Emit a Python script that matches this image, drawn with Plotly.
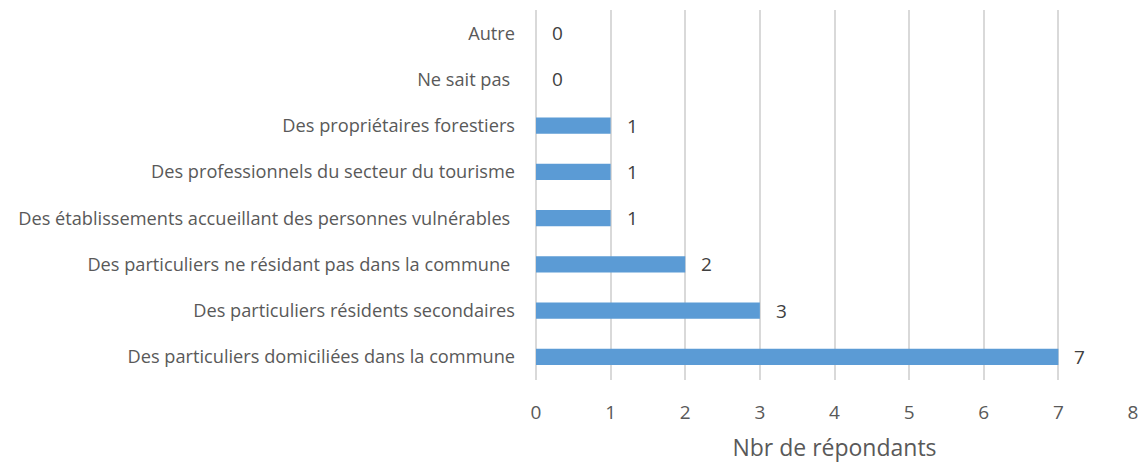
import plotly.graph_objects as go

categories = [
    "Des particuliers domiciliées dans la commune",
    "Des particuliers résidents secondaires",
    "Des particuliers ne résidant pas dans la commune ",
    "Des établissements accueillant des personnes vulnérables ",
    "Des professionnels du secteur du tourisme",
    "Des propriétaires forestiers",
    "Ne sait pas ",
    "Autre",
]
values = [7, 3, 2, 1, 1, 1, 0, 0]
x_ticks = [0, 1, 2, 3, 4, 5, 6, 7, 8]
x_title = "Nbr de répondants"

text_color = "#595959"
font_family = "'Open Sans', sans-serif"
grid_color = "#D9D9D9"

fig = go.Figure()
fig.add_trace(go.Bar(
    y=categories,
    x=values,
    orientation="h",
    marker=dict(color="#5B9BD5", line=dict(width=0)),
    hoverinfo="skip",
))

for c, v in zip(categories, values):
    fig.add_annotation(
        x=v, y=c, text=str(v), showarrow=False,
        xanchor="left", xshift=14,
        font=dict(size=19, color="#404040", family=font_family),
    )

fig.update_layout(
    width=1142, height=463,
    margin=dict(l=536, r=9, t=10, b=83, autoexpand=False),
    paper_bgcolor="white", plot_bgcolor="white",
    bargap=0.65,
    showlegend=False,
    font=dict(family=font_family, color=text_color),
)
fig.update_xaxes(
    range=[0, 8],
    tickvals=x_ticks,
    showgrid=True, gridcolor=grid_color, gridwidth=1.5,
    zeroline=True, zerolinecolor=grid_color, zerolinewidth=1.5,
    showline=False,
    tickfont=dict(size=19, color=text_color),
    ticklabelstandoff=19,
    automargin=False,
    title=dict(text=x_title, font=dict(size=23, color=text_color), standoff=17),
)
fig.update_yaxes(
    categoryorder="array", categoryarray=categories,
    showgrid=False, zeroline=False, showline=False,
    tickfont=dict(size=18.2, color=text_color),
    ticklabelstandoff=20,
    automargin=False,
)

# remove the default page margin so the figure fills the window without scrollbars
fig.write_html(
    "out.html",
    config={"displayModeBar": False},
    post_script="document.body.style.margin='0';document.body.style.overflow='hidden';",
)
